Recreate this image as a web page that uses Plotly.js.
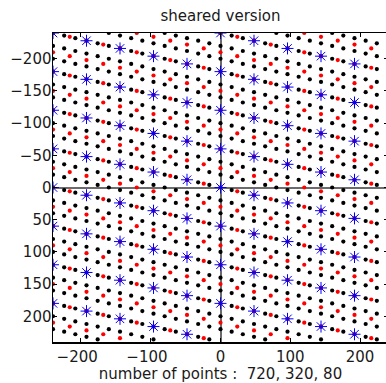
<!DOCTYPE html>
<html>
<head>
<meta charset="utf-8">
<script src="https://cdn.plot.ly/plotly-3.0.1.min.js"></script>
<style>
html, body { margin: 0; padding: 0; overflow: hidden; background: #fff; }
#chart { width: 388px; height: 383px; }
</style>
</head>
<body>
<div id="chart"></div>
<script>
// Lattice parameters (three sheared lattices)
const seriesNames = ['720 points', '320 points', '80 points'];
const pointCounts = [720, 320, 80];
const columnStepX = [16, 24, 48];   // horizontal step between columns
const shearStepY = [4, 6, 12];      // vertical shift per column (shear)
const rowStepY = [20, 30, 60];      // vertical step inside a column
const domainMin = -240;
const domainSize = 480;
const seriesColors = ['#000000', '#ff0000', '#0000ff'];
const xTickVals = [-200, -100, 0, 100, 200];
const xTickText = ['\u2212200\u2002', '\u2212100\u2002', '0', '100', '200'];
const yTickVals = [-200, -150, -100, -50, 0, 50, 100, 150, 200];
const yTickText = ['\u2212200', '\u2212150', '\u2212100', '\u221250', '0', '50', '100', '150', '200'];

function latticePoints(i) {
  const xs = [], ys = [];
  const nCols = domainSize / columnStepX[i];
  const nRows = domainSize / rowStepY[i];
  for (let a = 0; a < nCols; a++) {
    const off = (shearStepY[i] * a) % rowStepY[i];
    for (let b = 0; b < nRows; b++) {
      xs.push(domainMin + columnStepX[i] * a);
      ys.push(domainMin + off + rowStepY[i] * b);
    }
  }
  return {xs, ys};
}

const traces = [];
for (let i = 0; i < 3; i++) {
  const p = latticePoints(i);
  const isStar = i === 2;
  traces.push({
    type: 'scatter', mode: 'markers', name: seriesNames[i],
    x: p.xs, y: p.ys, hoverinfo: 'x+y',
    marker: isStar
      ? {symbol: 'asterisk-open', size: 10, color: seriesColors[i], line: {color: seriesColors[i], width: 1}}
      : {symbol: 'circle', size: 4.2, color: seriesColors[i], line: {width: 0}}
  });
}

const font = {family: 'DejaVu Sans, Liberation Sans, sans-serif', size: 15, color: '#1a1a1a'};
const layout = {
  width: 388, height: 383,
  margin: {l: 53, r: 0, t: 33, b: 41, pad: 0},
  paper_bgcolor: '#ffffff', plot_bgcolor: '#ffffff',
  showlegend: false,
  font: font,
  title: {text: 'sheared version', font: font, x: 0.5, xref: 'paper', xanchor: 'center', y: 1, yref: 'paper', yanchor: 'bottom', pad: {b: 12}},
  xaxis: {
    range: [-240, 240], tickvals: xTickVals, ticktext: xTickText,
    ticks: 'inside', ticklen: 4, tickwidth: 1, tickcolor: '#000',
    showline: true, linecolor: '#000', linewidth: 1.5, mirror: 'ticks',
    showgrid: false, zeroline: true, zerolinecolor: '#6b6b6b', zerolinewidth: 2,
    tickfont: font,
    title: {text: 'number of points :  720, 320, 80', font: font, standoff: 4}
  },
  yaxis: {
    range: [240, -240], tickvals: yTickVals, ticktext: yTickText,
    ticks: 'inside', ticklen: 4, tickwidth: 1, tickcolor: '#000',
    showline: true, linecolor: '#000', linewidth: 1.5, mirror: 'ticks',
    showgrid: false, zeroline: true, zerolinecolor: '#6b6b6b', zerolinewidth: 2,
    tickfont: font, ticklabelstandoff: -3
  }
};

Plotly.newPlot('chart', traces, layout, {displayModeBar: false, staticPlot: true});
</script>
</body>
</html>
